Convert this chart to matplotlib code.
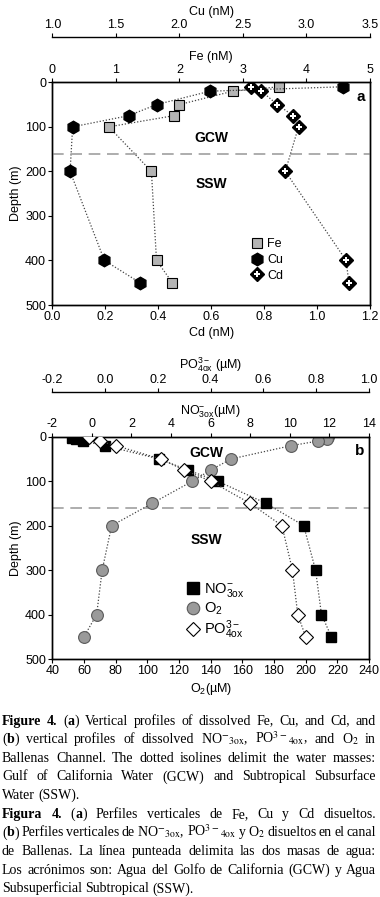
import matplotlib
matplotlib.use('Agg')
import matplotlib.pyplot as plt
from matplotlib import font_manager
from matplotlib.lines import Line2D
from matplotlib.ticker import FormatStrFormatter

# ---- panel a: trace metals (nM) vs depth (m)
fe_depth = [10, 20, 50, 75, 100, 200, 400, 450]
fe = [3.57, 2.84, 2.00, 1.91, 0.89, 1.56, 1.64, 1.89]
cu_depth = [10, 20, 50, 75, 100, 200, 400, 450]
cu = [3.29, 2.24, 1.82, 1.60, 1.16, 1.14, 1.41, 1.69]
cd_depth = [10, 20, 50, 75, 100, 200, 400, 450]
cd = [0.75, 0.79, 0.85, 0.91, 0.93, 0.88, 1.11, 1.12]

# ---- panel b: nutrients / oxygen (uM) vs depth (m)
no3_depth = [2, 5, 10, 20, 50, 75, 100, 150, 200, 300, 400, 450]
no3 = [-1.0, -0.8, -0.45, 0.65, 3.4, 4.85, 6.35, 8.8, 10.7, 11.3, 11.6, 12.1]
o2_depth = [0, 5, 10, 20, 50, 75, 100, 150, 200, 300, 400, 450]
o2 = [214, 213.5, 207.5, 191, 153, 140, 128.5, 103, 77.5, 71.5, 68, 60]
po4_depth = [0, 10, 20, 50, 75, 100, 150, 200, 300, 400, 450]
po4 = [-0.06, -0.02, 0.04, 0.21, 0.30, 0.40, 0.55, 0.67, 0.71, 0.73, 0.76]

boundary_depth = 160

names = {f.name for f in font_manager.fontManager.ttflist}
sans = 'Liberation Sans Narrow' if 'Liberation Sans Narrow' in names else 'Liberation Sans'
serif = 'Liberation Serif'

plt.rcParams['font.family'] = [sans, 'DejaVu Sans']
plt.rcParams['font.size'] = 9
plt.rcParams['axes.unicode_minus'] = False
plt.rcParams['mathtext.fontset'] = 'custom'
plt.rcParams['mathtext.rm'] = sans
plt.rcParams['mathtext.it'] = sans
plt.rcParams['mathtext.bf'] = sans + ':bold'
plt.rcParams['xtick.direction'] = 'out'
plt.rcParams['ytick.direction'] = 'out'
plt.rcParams['xtick.major.size'] = 3
plt.rcParams['ytick.major.size'] = 3
plt.rcParams['xtick.major.pad'] = 1.5
plt.rcParams['ytick.major.pad'] = 1.5
plt.rcParams['axes.linewidth'] = 1.0

W, H = 380, 897
fig = plt.figure(figsize=(W / 100, H / 100), dpi=100)

line_kw = dict(ls=(0, (1, 1.5)), lw=0.9, color='#444444')


def box(left, top, right, bottom):
    return [left / W, 1 - bottom / H, (right - left) / W, (bottom - top) / H]


def outer_top(ax, pt):
    t = ax.twiny()
    t.spines['top'].set_position(('outward', pt))
    for s in ['left', 'right', 'bottom']:
        t.spines[s].set_visible(False)
    t.xaxis.set_ticks_position('top')
    t.xaxis.set_label_position('top')
    return t


def depth_axis(ax):
    ax.set_ylim(500, 0)
    ax.set_yticks([0, 100, 200, 300, 400, 500])
    ax.set_ylabel('Depth (m)', labelpad=2)
    ax.axhline(boundary_depth, color='#a0a0a0', ls=(0, (7, 4)), lw=1.2, zorder=0)


# ================= panel a =================
ax_cd = fig.add_axes(box(52.3, 82.3, 370, 305))
depth_axis(ax_cd)
ax_cd.set_xlim(0, 1.2)
ax_cd.set_xticks([0, 0.2, 0.4, 0.6, 0.8, 1.0, 1.2])
ax_cd.xaxis.set_major_formatter(FormatStrFormatter('%.1f'))
ax_cd.set_xlabel('Cd (nM)', labelpad=3)

ax_fe = ax_cd.twiny()
ax_fe.set_xlim(0, 5)
ax_fe.set_xticks([0, 1, 2, 3, 4, 5])
ax_fe.set_xlabel('Fe (nM)', labelpad=3)

ax_cu = outer_top(ax_cd, 32.5)
ax_cu.set_xlim(1.0, 3.5)
ax_cu.set_xticks([1.0, 1.5, 2.0, 2.5, 3.0, 3.5])
ax_cu.xaxis.set_major_formatter(FormatStrFormatter('%.1f'))
ax_cu.set_xlabel('Cu (nM)', labelpad=3)

ax_fe.plot(fe, fe_depth, **line_kw)
ax_fe.plot(fe, fe_depth, 's', ls='none', ms=7.5, mfc='#b4b4b4', mec='black', mew=0.8)
ax_cu.plot(cu, cu_depth, **line_kw)
ax_cu.plot(cu, cu_depth, 'h', ls='none', ms=9, mfc='black', mec='black')
ax_cd.plot(cd, cd_depth, **line_kw)
ax_cd.plot(cd, cd_depth, 'D', ls='none', ms=7, mfc='black', mec='black', zorder=5)
ax_cd.plot(cd, cd_depth, 'P', ls='none', ms=4.5, mfc='white', mec='white', mew=0, zorder=6)
ax_cd.set_zorder(3)
ax_cd.patch.set_visible(False)

ax_cd.text(0.6, 124, 'GCW', fontsize=10, weight='bold', ha='center', va='center', family=['Liberation Sans'])
ax_cd.text(0.6, 228, 'SSW', fontsize=10, weight='bold', ha='center', va='center', family=['Liberation Sans'])
ax_cd.text(0.985, 0.935, 'a', transform=ax_cd.transAxes, fontsize=11, weight='bold',
           ha='right', va='center', family=['Liberation Sans'])

h_a = [Line2D([], [], ls='none', marker='s', ms=7.5, mfc='#b4b4b4', mec='black', mew=0.8),
       Line2D([], [], ls='none', marker='h', ms=9, mfc='black', mec='black'),
       (Line2D([], [], ls='none', marker='D', ms=7, mfc='black', mec='black'),
        Line2D([], [], ls='none', marker='P', ms=4.5, mfc='white', mec='white', mew=0))]
ax_cd.legend(h_a, ['Fe', 'Cu', 'Cd'], loc='upper left', bbox_to_anchor=(0.625, 0.3),
             frameon=False, handlelength=1.0, handletextpad=0.3, labelspacing=0.3,
             borderpad=0, borderaxespad=0, fontsize=9)

# ================= panel b =================
ax_o2 = fig.add_axes(box(52.3, 436.7, 369, 659))
depth_axis(ax_o2)
ax_o2.set_xlim(40, 240)
ax_o2.set_xticks(range(40, 241, 20))
ax_o2.set_xlabel('O$_2$(µM)', labelpad=3)

ax_no3 = ax_o2.twiny()
ax_no3.set_xlim(-2, 14)
ax_no3.set_xticks(range(-2, 15, 2))
ax_no3.set_xlabel('NO$^{-}_{3ox}$(µM)')
ax_no3.xaxis.set_label_coords(0.5, 1.1)

ax_po4 = outer_top(ax_o2, 32)
ax_po4.set_xlim(-0.2, 1.0)
ax_po4.set_xticks([-0.2, 0.0, 0.2, 0.4, 0.6, 0.8, 1.0])
ax_po4.xaxis.set_major_formatter(FormatStrFormatter('%.1f'))
ax_po4.set_xlabel('PO$^{3-}_{4ox}$ (µM)', labelpad=4)

ax_o2.plot(o2, o2_depth, **line_kw)
ax_o2.plot(o2, o2_depth, 'o', ls='none', ms=8.5, mfc='#9a9a9a', mec='#5a5a5a', mew=0.8)
ax_no3.plot(no3, no3_depth, **line_kw)
ax_no3.plot(no3, no3_depth, 's', ls='none', ms=7.5, mfc='black', mec='black')
ax_po4.plot(po4, po4_depth, **line_kw)
ax_po4.plot(po4, po4_depth, 'D', ls='none', ms=7, mfc='white', mec='black', mew=0.8)

ax_o2.text(137, 37, 'GCW', fontsize=10, weight='bold', ha='center', va='center', family=['Liberation Sans'])
ax_o2.text(137, 232, 'SSW', fontsize=10, weight='bold', ha='center', va='center', family=['Liberation Sans'])
ax_o2.text(0.985, 0.935, 'b', transform=ax_o2.transAxes, fontsize=11, weight='bold',
           ha='right', va='center', family=['Liberation Sans'])

h_b = [Line2D([], [], ls='none', marker='s', ms=8, mfc='black', mec='black'),
       Line2D([], [], ls='none', marker='o', ms=9, mfc='#9a9a9a', mec='#5a5a5a', mew=0.8),
       Line2D([], [], ls='none', marker='D', ms=7, mfc='white', mec='black', mew=0.8)]
ax_po4.legend(h_b, ['NO$^{-}_{3ox}$', 'O$_2$', 'PO$^{3-}_{4ox}$'], loc='upper left',
              bbox_to_anchor=(0.42, 0.35), frameon=False, handlelength=1.0,
              handletextpad=0.3, labelspacing=0.1, borderpad=0, borderaxespad=0, fontsize=10.5)

# ================= caption (justified) =================
caption = [
    ("*Figure* *4.* (*a*) Vertical profiles of dissolved Fe, Cu, and Cd, and", True),
    ("(*b*) vertical profiles of dissolved NO$^{-}{}_{\\mathrm{3ox}}$, PO$^{3-}{}_{\\mathrm{4ox}}$, and O$_2$ in", True),
    ("Ballenas Channel. The dotted isolines delimit the water masses:", True),
    ("Gulf of California Water (GCW) and Subtropical Subsurface", True),
    ("Water (SSW).", False),
    ("*Figura* *4.* (*a*) Perfiles verticales de Fe, Cu y Cd disueltos.", True),
    ("(*b*) Perfiles verticales de NO$^{-}{}_{\\mathrm{3ox}}$, PO$^{3-}{}_{\\mathrm{4ox}}$ y O$_2$ disueltos en el canal", True),
    ("de Ballenas. La línea punteada delimita las dos masas de agua:", True),
    ("Los acrónimos son: Agua del Golfo de California (GCW) y Agua", True),
    ("Subsuperficial Subtropical (SSW).", False),
]

renderer = fig.canvas.get_renderer()
cap_size = 10
left, right = 2.0, 376.0
base0, step = 724.5, 18.65
for i, (txt, justify) in enumerate(caption):
    y = 1 - (base0 + i * step) / H
    words = []
    for word in txt.split(' '):
        parts = []
        for k, piece in enumerate(word.split('*')):
            if piece == '':
                continue
            t = fig.text(0, y, piece, fontsize=cap_size, family=[serif, 'DejaVu Serif'],
                         weight='bold' if k % 2 else 'normal', math_fontfamily='stix',
                         va='baseline', ha='left')
            parts.append((t, t.get_window_extent(renderer).width))
        words.append(parts)
    total = sum(w for parts in words for _, w in parts)
    gap = (right - left - total) / (len(words) - 1) if justify else cap_size * 0.25 * 100 / 72
    x = left
    for parts in words:
        for t, w in parts:
            t.set_x(x / W)
            x += w
        x += gap

fig.savefig('out.png', dpi=100)
